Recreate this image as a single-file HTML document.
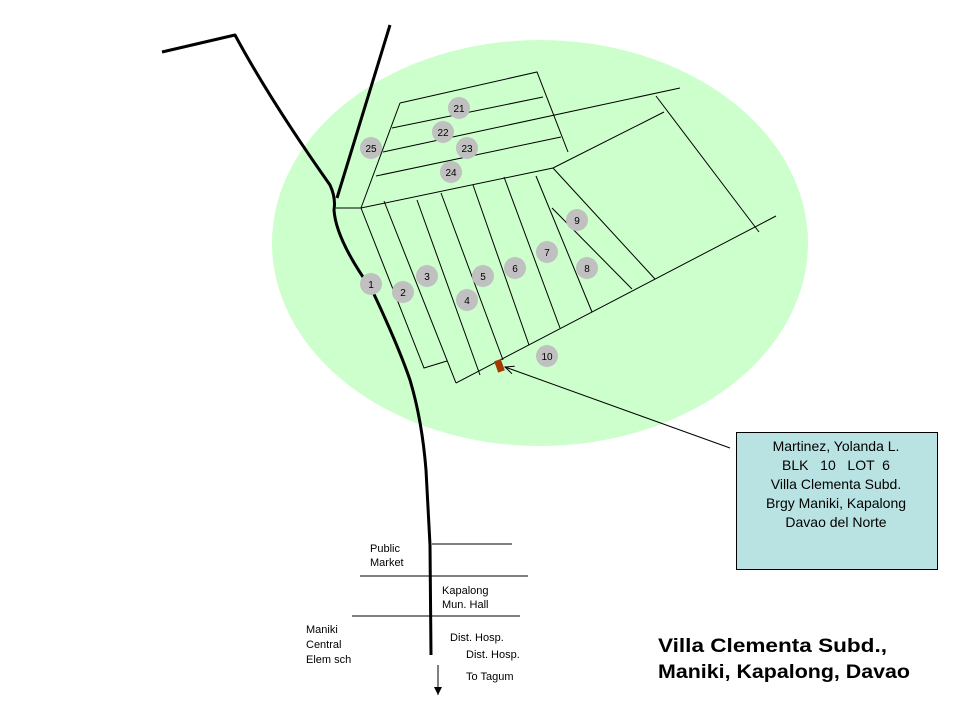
<!DOCTYPE html>
<html><head><meta charset="utf-8"><style>
html,body{margin:0;padding:0;background:#fff}
svg{display:block}
text{font-family:"Liberation Sans",Arial,sans-serif}
</style></head><body>
<svg width="960" height="720" viewBox="0 0 960 720" xmlns="http://www.w3.org/2000/svg">
<defs>
<marker id="ah" markerWidth="10" markerHeight="10" refX="9" refY="5" orient="auto" markerUnits="userSpaceOnUse">
<path d="M0,1 L9,5 L0,9" fill="none" stroke="#000" stroke-width="1"/></marker>
<marker id="ad" markerWidth="10" markerHeight="10" refX="5" refY="9" orient="0" markerUnits="userSpaceOnUse">
<path d="M1,1 L9,1 L5,9 Z" fill="#000"/></marker>
</defs>
<ellipse cx="540" cy="243" rx="268" ry="203" fill="#ccffcc"/>
<g stroke="#000" stroke-width="1" fill="none">
<polyline points="400,103 537,72 568,152"/>
<line x1="400" y1="103" x2="361" y2="208"/>
<line x1="392" y1="128" x2="543" y2="97"/>
<line x1="383" y1="152" x2="680" y2="88"/>
<line x1="376" y1="176" x2="561" y2="137"/>
<polyline points="336,208 361,208 553,168 664,112"/>
<line x1="656" y1="96" x2="759" y2="232"/>
<line x1="456" y1="383" x2="776" y2="216"/>
<line x1="553" y1="168" x2="655" y2="279"/>
<line x1="552" y1="208" x2="632" y2="289"/>
<polyline points="361,208 424,368 447,361"/>
<line x1="384" y1="201" x2="456" y2="383"/>
<line x1="417" y1="200" x2="480" y2="375"/>
<line x1="441" y1="193" x2="503" y2="360"/>
<line x1="473" y1="185" x2="529" y2="345"/>
<line x1="504" y1="177" x2="560" y2="328"/>
<line x1="536" y1="176" x2="592" y2="312"/>
<line x1="432" y1="544" x2="512" y2="544"/>
<line x1="360" y1="576" x2="528" y2="576"/>
<line x1="352" y1="616" x2="520" y2="616"/>
<line x1="730" y1="448" x2="505" y2="367" marker-end="url(#ah)"/>
<line x1="438" y1="665" x2="438" y2="695" marker-end="url(#ad)"/>
</g>
<g stroke="#000" stroke-width="3" fill="none" stroke-linejoin="round">
<path d="M162,52 L235,35 Q270,100 330,185 Q336,198 334,210 Q336,240 372,290 Q398,345 410,380 Q422,420 426,470 L430,545 L431,655"/>
<line x1="390" y1="25" x2="337" y2="198"/>
</g>
<rect x="496" y="360" width="7" height="12" fill="#a33a00" transform="rotate(-20 499 366)"/>
<g fill="#c0c0c0">
<circle cx="459" cy="108" r="11"/><circle cx="443" cy="132" r="11"/><circle cx="371" cy="148" r="11"/>
<circle cx="467" cy="148" r="11"/><circle cx="451" cy="172" r="11"/><circle cx="577" cy="220" r="11"/>
<circle cx="547" cy="252" r="11"/><circle cx="587" cy="268" r="11"/><circle cx="515" cy="268" r="11"/>
<circle cx="483" cy="276" r="11"/><circle cx="427" cy="276" r="11"/><circle cx="371" cy="284" r="11"/>
<circle cx="403" cy="292" r="11"/><circle cx="467" cy="300" r="11"/><circle cx="547" cy="356" r="11"/>
</g>
<g font-size="10" text-anchor="middle" fill="#000">
<text x="459" y="112">21</text><text x="443" y="136">22</text><text x="371" y="152">25</text>
<text x="467" y="152">23</text><text x="451" y="176">24</text><text x="577" y="224">9</text>
<text x="547" y="256">7</text><text x="587" y="272">8</text><text x="515" y="272">6</text>
<text x="483" y="280">5</text><text x="427" y="280">3</text><text x="371" y="288">1</text>
<text x="403" y="296">2</text><text x="467" y="304">4</text><text x="547" y="360">10</text>
</g>
<rect x="736.5" y="432.5" width="201" height="137" fill="#b9e3e3" stroke="#000" stroke-width="1"/>
<g font-size="14" text-anchor="middle" fill="#000">
<text x="836" y="451">Martinez, Yolanda L.</text>
<text x="836" y="470" xml:space="preserve">BLK   10   LOT  6</text>
<text x="836" y="489">Villa Clementa Subd.</text>
<text x="836" y="508">Brgy Maniki, Kapalong</text>
<text x="836" y="527">Davao del Norte</text>
</g>
<g font-size="11" fill="#000">
<text x="370" y="552">Public</text><text x="370" y="566">Market</text>
<text x="442" y="594">Kapalong</text><text x="442" y="608">Mun. Hall</text>
<text x="306" y="633">Maniki</text><text x="306" y="648">Central</text><text x="306" y="663">Elem sch</text>
<text x="450" y="641">Dist. Hosp.</text><text x="466" y="658">Dist. Hosp.</text>
<text x="466" y="680">To Tagum</text>
</g>
<g font-size="19" font-weight="bold" fill="#000">
<text x="658" y="652" textLength="229" lengthAdjust="spacingAndGlyphs">Villa Clementa Subd.,</text>
<text x="658" y="678" textLength="252" lengthAdjust="spacingAndGlyphs">Maniki, Kapalong, Davao</text>
</g>
</svg>
</body></html>
